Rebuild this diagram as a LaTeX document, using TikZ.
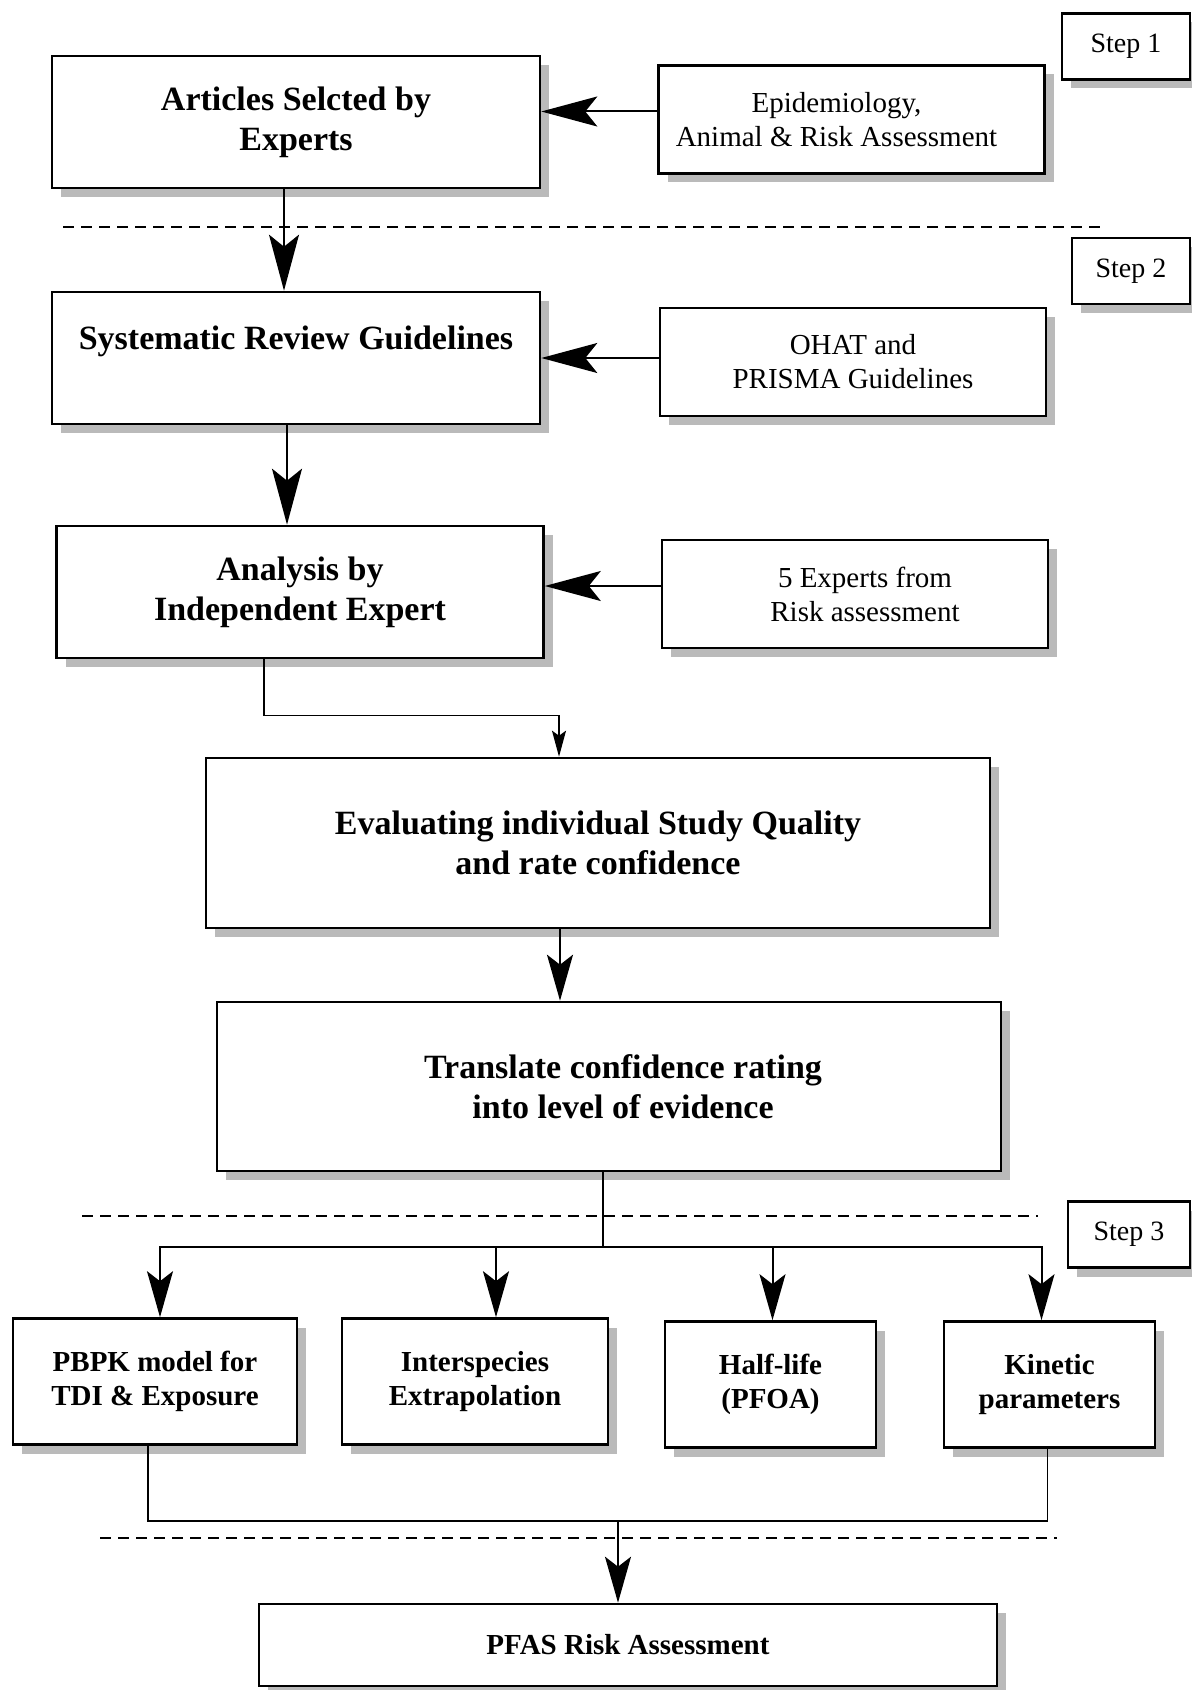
\documentclass[tikz,border=0pt]{standalone}
\usepackage{fontspec}
\setmainfont{Liberation Serif}
\usetikzlibrary{arrows.meta,shadows}

\begin{document}
\begin{tikzpicture}[
  x=0.5pt, y=-0.5pt,
  box/.style={rectangle, draw, line width=1.3pt, fill=white, align=center, inner sep=2pt,
    drop shadow={shadow xshift=4.5pt, shadow yshift=-4.5pt, fill=black!27, opacity=1}},
  main/.style={box, font=\bfseries\fontsize{17}{20}\selectfont},
  src/.style={box, font=\fontsize{14.5}{17}\selectfont, minimum width=193pt, minimum height=54pt},
  leaf/.style={box, font=\bfseries\fontsize{14.5}{17}\selectfont, minimum height=63pt},
  stepbox/.style={box, font=\fontsize{14}{17}\selectfont, minimum height=33pt},
  bigarrow/.style={-{Stealth[length=28pt, width=15pt, inset=6pt]}, line width=1pt},
  midarrow/.style={-{Stealth[length=23pt, width=13pt, inset=5pt]}, line width=1pt},
  smallarrow/.style={-{Stealth[length=13pt, width=7pt, inset=2.5pt]}, line width=0.8pt},
  link/.style={line width=0.8pt},
  sep/.style={dash pattern=on 5.5pt off 3.5pt, line width=1pt}
]
\useasboundingbox (0,0) rectangle (1192,1690);

% step 1
\node[main, minimum width=244pt, minimum height=66pt] (articles) at (296,122) {Articles Selcted by\\Experts};
\node[src] (epi) at (851.5,119.5) {\hspace*{-15pt}Epidemiology,\\\hspace*{-15pt}Animal \& Risk Assessment};
\node[stepbox, minimum width=64pt] (step1) at (1126,46.5) {Step 1};

% step 2
\node[main, minimum width=244pt, minimum height=66pt] (srg) at (296,358) {Systematic Review Guidelines\\\mbox{}};
\node[src] (ohat) at (853,362) {OHAT and\\PRISMA Guidelines};
\node[stepbox, minimum width=59pt] (step2) at (1131,271) {Step 2};
\node[main, minimum width=243.5pt, minimum height=66pt] (analysis) at (300,592) {Analysis by\\Independent Expert};
\node[src] (experts) at (855,594) {\hspace*{10pt}5 Experts from\\\hspace*{10pt}Risk assessment};
\node[main, minimum width=392pt, minimum height=85pt] (eval) at (598,843) {Evaluating individual Study Quality\\and rate confidence};
\node[main, minimum width=392pt, minimum height=84.5pt] (translate) at (609,1086.5) {\hspace*{14pt}Translate confidence rating\\\hspace*{14pt}into level of evidence};

% step 3
\node[stepbox, minimum width=61pt] (step3) at (1129,1234.5) {Step 3};
\node[leaf, minimum width=142pt] (pbpk) at (155,1381.5) {PBPK model for\\TDI \& Exposure};
\node[leaf, minimum width=133pt] (inter) at (475,1381.5) {Interspecies\\Extrapolation};
\node[leaf, minimum width=105.5pt] (half) at (770.5,1384.5) {Half-life\\(PFOA)};
\node[leaf, minimum width=105.5pt] (kin) at (1049.5,1384.5) {Kinetic\\parameters};
\node[box, font=\bfseries\fontsize{14.5}{17}\selectfont, minimum width=369pt, minimum height=41pt] (pfas) at (628,1645) {PFAS Risk Assessment};

\coordinate (split) at (603,1247);
\coordinate (join) at (618,1521);

% separators
\draw[sep] (63,227) -- (1102,227);
\draw[sep] (82,1216) -- (1038,1216);
\draw[sep] (100,1538) -- (1057,1538);

\draw[bigarrow] ([yshift=4pt]epi.west) -- ([yshift=4pt]epi.west -| articles.east);
\draw[bigarrow] ([yshift=2pt]ohat.west) -- ([yshift=2pt]ohat.west -| srg.east);
\draw[bigarrow] ([yshift=4pt]experts.west) -- ([yshift=4pt]experts.west -| analysis.east);
\draw[bigarrow] ([xshift=-6pt]articles.south) -- ([xshift=-6pt]srg.north);
\draw[bigarrow] ([xshift=-4.5pt]srg.south) -- ([xshift=-4.5pt]srg.south |- analysis.north);
\draw[smallarrow] ([xshift=-18pt]analysis.south) -- ++(0,56) -| ([xshift=-19.5pt]eval.north);
\draw[midarrow] ([xshift=-19pt]eval.south) -- ([xshift=-19pt]eval.south |- translate.north);

\draw[link] ([xshift=-3pt]translate.south) -- (split);
\foreach \b/\s in {pbpk/2.5, inter/10.5, half/1, kin/-4}
  \draw[midarrow] (split) -| ([xshift=\s pt]\b.north);

\draw[link] ([xshift=-3.5pt]pbpk.south) |- (join) -| ([xshift=-1pt]kin.south);
\draw[midarrow] (join) -- (join |- pfas.north);
\end{tikzpicture}
\end{document}
